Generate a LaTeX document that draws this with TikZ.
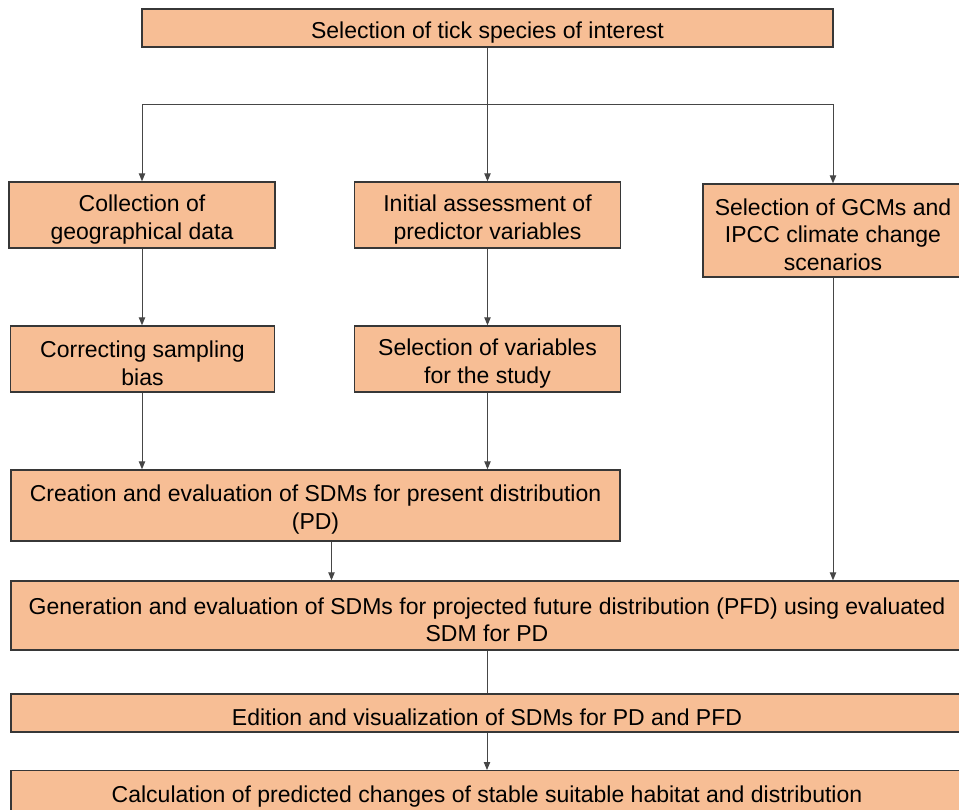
\documentclass[tikz,border=0pt]{standalone}
\usepackage{fontspec}
\setmainfont{Liberation Sans}
\usetikzlibrary{arrows.meta,calc}
\definecolor{peach}{RGB}{247,190,149}
\definecolor{rim}{RGB}{55,55,55}
\definecolor{wire}{RGB}{70,70,70}
\newcommand\lift{\rule{0pt}{12.6pt}}
\tikzset{
  stp/.style={rectangle,draw=rim,fill=peach,line width=.7pt,inner sep=0pt,align=center,
    font=\fontsize{11.5}{13.9}\selectfont},
  lnk/.style={draw=wire,line width=.5pt},
  msg/.style={lnk,-{Triangle[length=4pt,width=3.2pt]}},
}
\begin{document}
\begin{tikzpicture}[x=0.5pt,y=-0.5pt]
\useasboundingbox (0,0) rectangle (959,809);
% top of the chain
\node[stp,minimum width=345.5pt,minimum height=19pt] (top) at (487.5,28) {\lift Selection of tick species of interest};
\coordinate (br) at (487.5,104);
% three first steps
\node[stp,minimum width=133pt,minimum height=33pt] (coll) at (142,215) {\lift Collection of\\ geographical data};
\node[stp,minimum width=133pt,minimum height=33pt] (init) at (487.5,215) {\lift Initial assessment of\\ predictor variables};
\node[stp,minimum width=130pt,minimum height=46.5pt] (gcm) at (833,230.5) {\lift Selection of GCMs and\\ IPCC climate change\\ scenarios};
\draw[lnk] (br -| coll.north) -- (br -| gcm.north);
\draw[msg] (top.south) -- (init.north);
\draw[msg] (br -| coll.north) -- (coll.north);
\draw[msg] (br -| gcm.north) -- (gcm.north);
% second row
\node[stp,minimum width=132pt,minimum height=33pt] (corr) at (142.5,359) {\lift Correcting sampling\\ bias};
\node[stp,minimum width=133pt,minimum height=33pt] (selv) at (487.5,359) {\lift Selection of variables\\ for the study};
\draw[msg] (coll.south) -- (coll.south |- corr.north);
\draw[msg] (init.south) -- (selv.north);
% models
\node[stp,minimum width=304.5pt,minimum height=35.5pt] (crea) at (315.5,505.5) {\lift Creation and evaluation of SDMs for present distribution\\ (PD)};
\draw[msg] (corr.south -| coll.south) -- (crea.north -| coll.south);
\draw[msg] (selv.south) -- (crea.north -| selv.south);
\node[stp,minimum width=476pt,minimum height=34.5pt] (gen) at (487,615.5) {\lift Generation and evaluation of SDMs for projected future distribution (PFD) using evaluated\\ SDM for PD};
\draw[msg] ([xshift=8pt]crea.south) -- ([xshift=8pt]crea.south |- gen.north);
\draw[msg] (gcm.south) -- (gcm.south |- gen.north);
% output
\node[stp,minimum width=476pt,minimum height=19pt] (edit) at (487,713) {\lift Edition and visualization of SDMs for PD and PFD};
\draw[lnk] (gen.south) -- (edit.north);
\node[stp,minimum width=476pt,minimum height=21.5pt,anchor=north] (calc) at (487,770) {\lift Calculation of predicted changes of stable suitable habitat and distribution};
\draw[msg] (edit.south) -- (calc.north);
\end{tikzpicture}
\end{document}
